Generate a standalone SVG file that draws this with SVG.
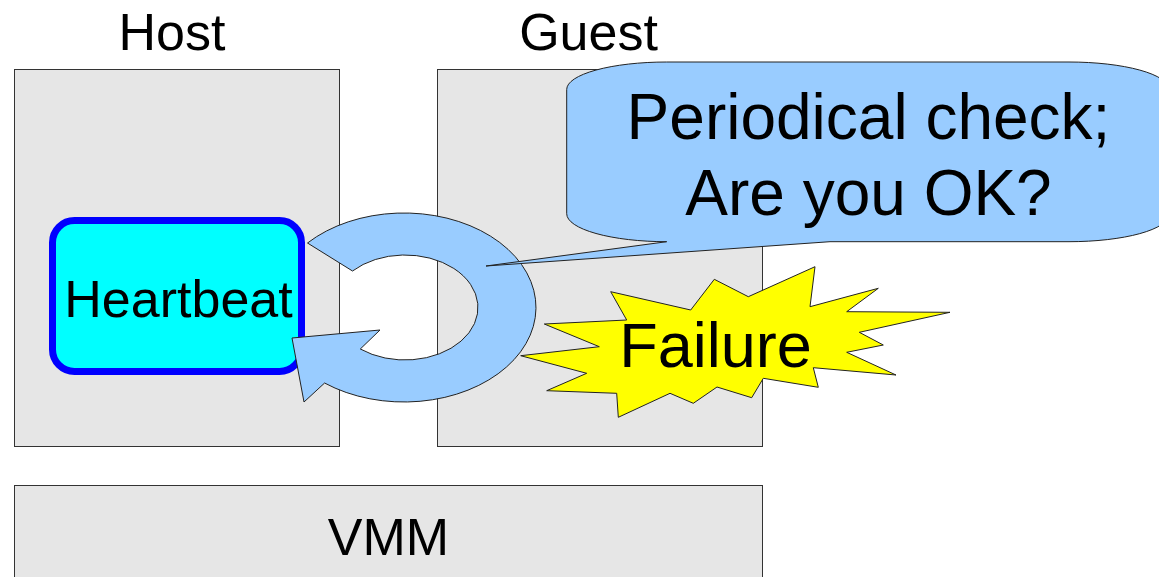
<svg xmlns="http://www.w3.org/2000/svg" width="1159" height="577" viewBox="0 0 1159 577">
  <style>
    .box { fill: #e6e6e6; stroke: #333333; stroke-width: 1; }
    .label { font-family: "Liberation Sans", Arial, sans-serif; fill: #000000; text-anchor: middle; }
    .blue { fill: #99ccff; stroke: #222222; stroke-width: 1; stroke-linejoin: miter; }
  </style>
  <rect width="1159" height="577" fill="#ffffff"/>

  <!-- Column titles -->
  <text class="label" x="172" y="50" font-size="52">Host</text>
  <text class="label" x="588.5" y="50" font-size="52">Guest</text>

  <g id="host">
    <rect class="box" x="14.5" y="69.5" width="325" height="377"/>
  </g>
  <g id="guest">
    <rect class="box" x="437.5" y="69.5" width="325" height="377"/>
  </g>
  <g id="vmm">
    <rect class="box" x="14.5" y="485.5" width="748" height="110"/>
    <text class="label" x="388.5" y="555" font-size="52">VMM</text>
  </g>

  <g id="heartbeat">
    <rect x="52.5" y="220.5" width="249" height="151" rx="22" ry="22" fill="#00ffff" stroke="#0000ff" stroke-width="7"/>
    <text class="label" x="178.5" y="317" font-size="52">Heartbeat</text>
  </g>

  <g id="connectors">
    <!-- circular "periodical check" arrow looping from the heartbeat and back -->
    <path class="blue" d="M307.5,243 A132 94.5 0 1 1 324.6,383 L304,402 L292,338 L380,330 L360.3,349 A73 52.5 0 1 0 352.5,271 Z"/>
  </g>

  <g id="callout">
    <path class="blue" d="M666.7,62 L1069,62 A100 27.5 0 0 1 1169,89.5 L1169,214.2 A100 27.5 0 0 1 1069,241.7 L830,241.7 L486,266 L666.7,241.7 A100 28 0 0 1 566.7,213.7 L566.7,89.5 A100 27.5 0 0 1 666.7,62 Z"/>
    <text class="label" x="868.5" y="138.5" font-size="64">Periodical check;</text>
    <text class="label" x="868.5" y="215" font-size="64">Are you OK?</text>
  </g>

  <g id="failure">
    <polygon fill="#ffff00" stroke="#222222" stroke-width="1" points="610.7,291.7 690.7,310 714.3,279.3 748.3,296.7 815,266.7 810,306.7 878.3,288.3 846.7,311.7 950,312.3 859.3,332.3 883.3,345 846.7,352.3 896,375 813.3,367.7 818.3,387.3 763.3,378.3 751.7,397.7 717,387 693.3,403.3 670,393.3 618.3,417.3 616.7,393.3 546.7,390.7 586.7,373.3 520.7,355.7 599.3,346.7 544.3,324 626.7,320"/>
    <text class="label" x="715.5" y="367" font-size="63">Failure</text>
  </g>
</svg>
